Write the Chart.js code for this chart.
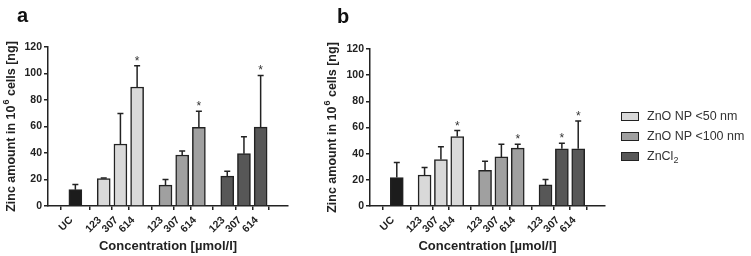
<!DOCTYPE html>
<html>
<head>
<meta charset="utf-8">
<script src="https://cdn.jsdelivr.net/npm/chart.js@4.4.1/dist/chart.umd.min.js"></script>
<style>
body { margin: 0; background: #fff; width: 751px; height: 256px; position: relative; overflow: hidden; font-family: Arial, "Liberation Sans", sans-serif; }
canvas { position: absolute; top: 0; }
#chartA { left: 0; }
#chartB { left: 322px; }
#legend { position: absolute; left: 621px; top: 106px; font-size: 12.5px; color: #333; z-index: 2; }
.item { height: 20px; display: flex; align-items: center; }
.sw { width: 16px; height: 7px; border: 1px solid #222; margin-right: 8px; }
sub { font-size: 9px; vertical-align: -3px; line-height: 0; }
</style>
</head>
<body>
<canvas id="chartA" width="300" height="256"></canvas>
<canvas id="chartB" width="300" height="256"></canvas>
<div id="legend"></div>
<script>
// tick labels along the x axis
const tickLabels = ['UC', '123', '307', '614', '123', '307', '614', '123', '307', '614'];
const seriesNames = ['UC', 'ZnO NP <50 nm', 'ZnO NP <100 nm', 'ZnCl2'];
const seriesColors = ['#1c1c1c', '#d9d9d9', '#a0a0a0', '#575757'];

// panel a - means and SD
const ucA = [12.3], ucSdA = [4.0];
const np50A = [20.7, 46.8, 89.8], np50SdA = [0.4, 23.0, 16.0];
const np100A = [15.8, 38.5, 59.3], np100SdA = [4.2, 3.0, 12.3];
const zncl2A = [22.5, 39.5, 59.5], zncl2SdA = [3.8, 12.8, 39.0];
const np50StarA = [0, 0, 1], np100StarA = [0, 0, 1], zncl2StarA = [0, 0, 1];

// panel b
const ucB = [21.7], ucSdB = [11.5];
const np50B = [23.7, 35.5, 53.1], np50SdB = [5.7, 9.7, 4.6];
const np100B = [27.3, 37.5, 44.2], np100SdB = [6.9, 9.7, 3.0];
const zncl2B = [16.1, 43.7, 43.7], zncl2SdB = [4.1, 4.3, 21.3];
const np50StarB = [0, 0, 1], np100StarB = [0, 0, 1], zncl2StarB = [0, 1, 1];

// x slots: UC alone, then three groups of three with a wider gap
const groupGap = 1.7;
let xPos = [0];
for (let g = 0; g < 3; g++) {
    for (let k = 0; k < 3; k++) {
        xPos.push(groupGap + g * (2 + groupGap) + k);
    }
}

const errorBars = {
    id: 'errorBars',
    afterDatasetsDraw(chart) {
        const ctx = chart.ctx;
        const y = chart.scales.y;
        chart.data.datasets.forEach((ds, i) => {
            const meta = chart.getDatasetMeta(i);
            meta.data.forEach((bar, j) => {
                const top = y.getPixelForValue(ds.data[j].y + ds.sd[j]);
                ctx.save();
                ctx.strokeStyle = '#222';
                ctx.lineWidth = 1.5;
                ctx.beginPath();
                ctx.moveTo(bar.x, bar.y);
                ctx.lineTo(bar.x, top);
                ctx.moveTo(bar.x - 3, top);
                ctx.lineTo(bar.x + 3, top);
                ctx.stroke();
                if (ds.stars[j]) {
                    ctx.fillStyle = '#333';
                    ctx.font = '12px Arial';
                    ctx.textAlign = 'center';
                    ctx.fillText('*', bar.x, top - 1);
                }
                ctx.restore();
            });
        });
    }
};

const panelText = {
    id: 'panelText',
    afterDraw(chart, args, opts) {
        const ctx = chart.ctx;
        ctx.save();
        ctx.fillStyle = '#111';
        ctx.font = 'bold 20px Arial';
        ctx.fillText(opts.letter, opts.lx, opts.ly);
        // y axis title with superscript
        const area = chart.chartArea;
        ctx.translate(opts.tx, (area.top + area.bottom) / 2);
        ctx.rotate(-Math.PI / 2);
        ctx.fillStyle = '#222';
        ctx.textBaseline = 'middle';
        const big = 'bold 12.5px Arial', small = 'bold 9px Arial';
        const p1 = 'Zinc amount in 10', p2 = '6', p3 = ' cells [ng]';
        ctx.font = big;
        const w1 = ctx.measureText(p1).width, w3 = ctx.measureText(p3).width;
        ctx.font = small;
        const w2 = ctx.measureText(p2).width + 1;
        let x = -(w1 + w2 + w3) / 2;
        ctx.font = big;
        ctx.fillText(p1, x, 0);
        ctx.font = small;
        ctx.fillText(p2, x + w1 + 1, -5);
        ctx.font = big;
        ctx.fillText(p3, x + w1 + w2, 0);
        ctx.restore();
    }
};

function makeDatasets(uc, ucSd, a, aSd, aStar, b, bSd, bStar, c, cSd, cStar) {
    const vals = [uc, a, b, c];
    const sds = [ucSd, aSd, bSd, cSd];
    const stars = [[0], aStar, bStar, cStar];
    let idx = 0;
    return vals.map((v, s) => {
        const data = v.map(val => ({ x: xPos[idx++], y: val }));
        return {
            label: seriesNames[s],
            data: data,
            sd: sds[s],
            stars: stars[s],
            backgroundColor: seriesColors[s],
            borderColor: '#222',
            borderWidth: 1.5,
            barThickness: 13,
            grouped: false
        };
    });
}

function makeChart(id, datasets, pad, letter) {
    const tickFont = { family: 'Arial', size: 10.5, weight: 'bold' };
    return new Chart(document.getElementById(id), {
        type: 'bar',
        data: { datasets: datasets },
        options: {
            responsive: false,
            animation: false,
            layout: { padding: { top: pad.top, right: pad.right, left: 0, bottom: 0 } },
            plugins: {
                legend: { display: false },
                tooltip: { enabled: false },
                panelText: letter
            },
            scales: {
                x: {
                    type: 'linear',
                    min: -0.92,
                    max: xPos[xPos.length - 1] + 0.92,
                    afterBuildTicks: s => { s.ticks = xPos.map(v => ({ value: v })); },
                    afterFit: s => { s.height = 50; },
                    ticks: {
                        autoSkip: false, minRotation: 45, maxRotation: 45, padding: 4, labelOffset: -4,
                        color: '#222', font: tickFont,
                        callback: (v, i) => tickLabels[i]
                    },
                    grid: { drawOnChartArea: false, tickLength: 4, color: '#222', lineWidth: 1.5 },
                    border: { color: '#222', width: 1.5 },
                    title: {
                        display: true, text: 'Concentration [µmol/l]', color: '#222',
                        font: { family: 'Arial', size: 13, weight: 'bold' },
                        padding: { top: 0, bottom: 2 }
                    }
                },
                y: {
                    min: 0, max: 120,
                    afterFit: s => { s.width = 48; },
                    ticks: { stepSize: 20, padding: 2, color: '#222', font: tickFont },
                    grid: { drawOnChartArea: false, tickLength: 4, color: '#222', lineWidth: 1.5 },
                    border: { color: '#222', width: 1.5 }
                }
            }
        },
        plugins: [errorBars, panelText]
    });
}

makeChart('chartA',
    makeDatasets(ucA, ucSdA, np50A, np50SdA, np50StarA, np100A, np100SdA, np100StarA, zncl2A, zncl2SdA, zncl2StarA),
    { top: 47, right: 12 }, { letter: 'a', lx: 17, ly: 22, tx: 12 });

makeChart('chartB',
    makeDatasets(ucB, ucSdB, np50B, np50SdB, np50StarB, np100B, np100SdB, np100StarB, zncl2B, zncl2SdB, zncl2StarB),
    { top: 49, right: 17 }, { letter: 'b', lx: 15, ly: 23, tx: 11 });

// legend for the three treatments
const legend = document.getElementById('legend');
for (let s = 1; s < seriesNames.length; s++) {
    const name = seriesNames[s] === 'ZnCl2' ? 'ZnCl<sub>2</sub>' : seriesNames[s].replace('<', '&lt;');
    legend.insertAdjacentHTML('beforeend',
        `<div class="item"><span class="sw" style="background:${seriesColors[s]}"></span><span>${name}</span></div>`);
}
</script>
</body>
</html>
